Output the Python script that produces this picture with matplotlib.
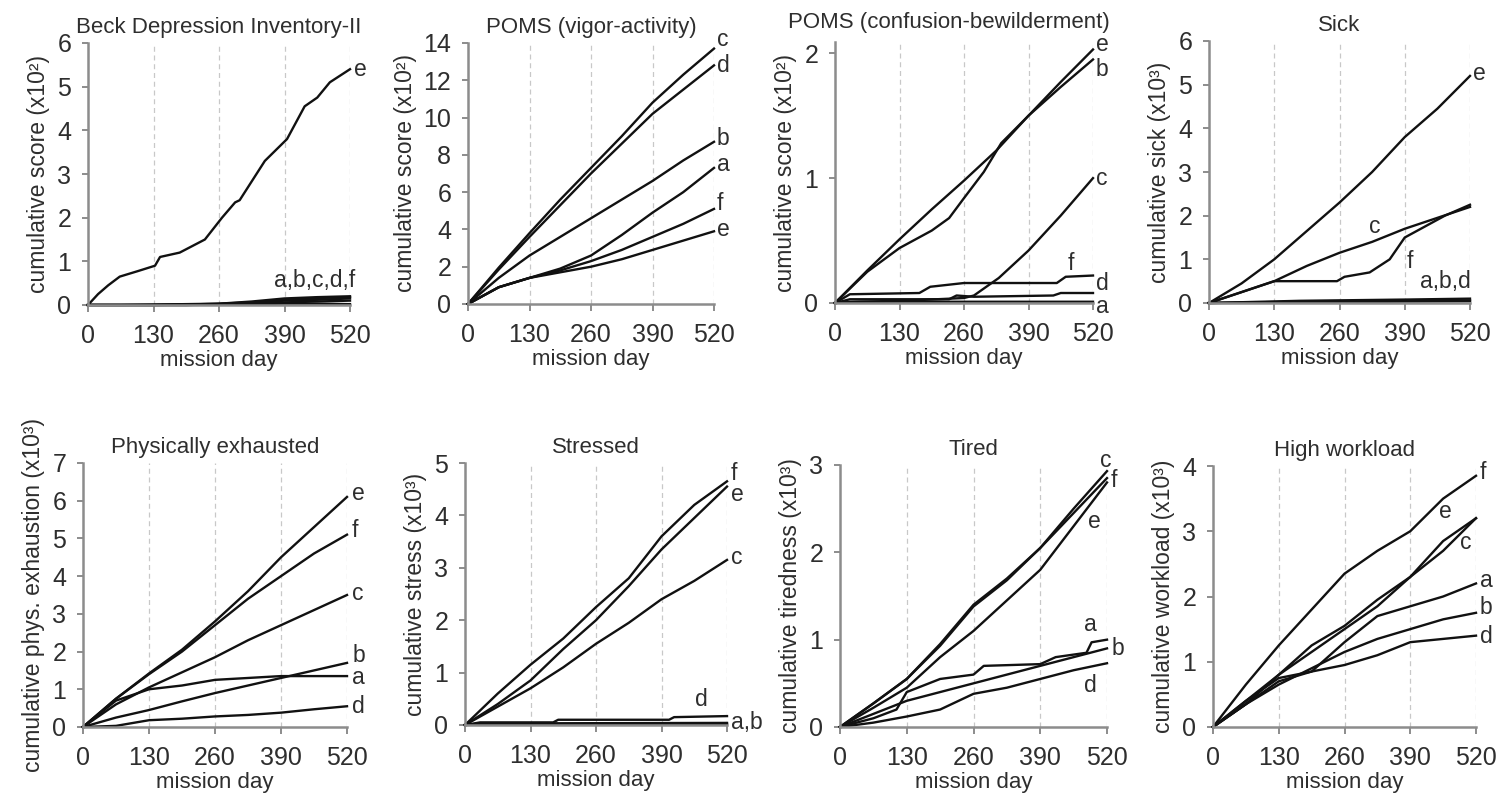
import matplotlib
matplotlib.use("Agg")
import matplotlib.pyplot as plt

plt.rcParams['font.family'] = ['Liberation Sans', 'DejaVu Sans']

days = [0, 65, 130, 195, 260, 325, 390, 455, 520]
day_ticks = [0, 130, 260, 390, 520]

# ---- Beck Depression Inventory-II (x10^2)
bdi_e_x = [0, 20, 40, 63, 100, 133, 143, 182, 232, 266, 292, 301, 351, 395, 430, 455, 480, 520]
bdi_e = [0, 0.25, 0.45, 0.65, 0.78, 0.9, 1.1, 1.2, 1.5, 2.0, 2.35, 2.4, 3.3, 3.8, 4.55, 4.75, 5.1, 5.4]
bdi_a = [0, 0, 0, 0, 0.01, 0.02, 0.03, 0.03, 0.02]
bdi_b = [0, 0, 0, 0, 0.02, 0.04, 0.06, 0.08, 0.1]
bdi_c = [0, 0, 0.01, 0.02, 0.03, 0.08, 0.15, 0.18, 0.2]
bdi_d = [0, 0, 0, 0.01, 0.02, 0.05, 0.1, 0.12, 0.15]
bdi_f = [0, 0, 0, 0.01, 0.03, 0.06, 0.12, 0.16, 0.18]

# ---- POMS vigor-activity (x10^2)
vig_c = [0, 1.95, 3.8, 5.6, 7.3, 9.0, 10.8, 12.3, 13.7]
vig_d = [0, 1.85, 3.6, 5.3, 7.0, 8.6, 10.2, 11.5, 12.8]
vig_b = [0, 1.4, 2.6, 3.6, 4.6, 5.6, 6.6, 7.7, 8.7]
vig_a = [0, 0.9, 1.4, 1.9, 2.6, 3.7, 4.9, 6.0, 7.3]
vig_f = [0, 0.9, 1.4, 1.8, 2.3, 2.9, 3.6, 4.3, 5.1]
vig_e = [0, 0.9, 1.4, 1.7, 2.0, 2.4, 2.9, 3.4, 3.9]

# ---- POMS confusion-bewilderment (x10^2)
con_e = [0, 0.26, 0.51, 0.75, 0.98, 1.22, 1.5, 1.77, 2.03]
con_b_x = [0, 65, 130, 195, 230, 260, 300, 335, 390, 455, 520]
con_b = [0, 0.25, 0.44, 0.58, 0.68, 0.84, 1.05, 1.28, 1.5, 1.73, 1.95]
con_c_x = [0, 50, 150, 260, 280, 330, 390, 455, 520]
con_c = [0, 0.01, 0.02, 0.04, 0.06, 0.2, 0.42, 0.7, 1.0]
con_f_x = [0, 30, 170, 192, 260, 447, 465, 520]
con_f = [0, 0.07, 0.08, 0.13, 0.16, 0.16, 0.21, 0.22]
con_d_x = [0, 30, 230, 245, 280, 440, 455, 520]
con_d = [0, 0.03, 0.03, 0.06, 0.05, 0.06, 0.08, 0.08]
con_a_x = [0, 30, 520]
con_a = [0, 0.01, 0.01]

# ---- Sick (x10^3)
sick_e = [0, 0.45, 1.0, 1.65, 2.3, 3.0, 3.8, 4.45, 5.2]
sick_c = [0, 0.25, 0.5, 0.85, 1.15, 1.4, 1.7, 1.95, 2.2]
sick_f_x = [0, 65, 130, 255, 270, 320, 360, 390, 430, 470, 520]
sick_f = [0, 0.25, 0.5, 0.5, 0.6, 0.7, 1.0, 1.5, 1.75, 2.0, 2.25]
sick_a_x = [0, 180, 520]
sick_a = [0, 0.03, 0.06]
sick_b_x = [0, 180, 400, 520]
sick_b = [0, 0.05, 0.08, 0.1]
sick_d_x = [0, 520]
sick_d = [0, 0.04]

# ---- Physically exhausted (x10^3)
phy_e = [0, 0.75, 1.42, 2.05, 2.8, 3.6, 4.5, 5.3, 6.1]
phy_f = [0, 0.75, 1.4, 2.0, 2.7, 3.4, 4.0, 4.6, 5.1]
phy_c = [0, 0.6, 1.05, 1.45, 1.85, 2.3, 2.7, 3.1, 3.5]
phy_b = [0, 0.25, 0.45, 0.68, 0.9, 1.1, 1.3, 1.5, 1.7]
phy_a = [0, 0.7, 1.0, 1.1, 1.25, 1.3, 1.35, 1.35, 1.35]
phy_d = [0, 0.03, 0.18, 0.22, 0.28, 0.32, 0.38, 0.47, 0.55]

# ---- Stressed (x10^3)
str_f = [0, 0.6, 1.15, 1.65, 2.25, 2.8, 3.6, 4.2, 4.65]
str_e = [0, 0.4, 0.85, 1.45, 2.0, 2.65, 3.35, 3.95, 4.55]
str_c = [0, 0.35, 0.7, 1.1, 1.55, 1.95, 2.4, 2.75, 3.15]
str_d_x = [0, 30, 175, 185, 405, 415, 520]
str_d = [0, 0.05, 0.05, 0.1, 0.1, 0.15, 0.17]
str_a_x = [0, 30, 520]
str_a = [0, 0.03, 0.04]
str_b_x = [0, 30, 520]
str_b = [0, 0.01, 0.02]

# ---- Tired (x10^3)
tir_c = [0, 0.27, 0.55, 0.95, 1.4, 1.7, 2.05, 2.5, 2.93]
tir_f = [0, 0.27, 0.55, 0.93, 1.38, 1.68, 2.05, 2.45, 2.85]
tir_e = [0, 0.22, 0.45, 0.8, 1.1, 1.45, 1.8, 2.3, 2.8]
tir_a_x = [0, 65, 110, 130, 195, 260, 280, 390, 420, 480, 490, 520]
tir_a = [0, 0.1, 0.2, 0.4, 0.55, 0.6, 0.7, 0.72, 0.8, 0.85, 0.97, 1.0]
tir_b = [0, 0.15, 0.3, 0.4, 0.5, 0.6, 0.7, 0.8, 0.9]
tir_d = [0, 0.05, 0.12, 0.2, 0.38, 0.45, 0.55, 0.65, 0.73]

# ---- High workload (x10^3)
wl_f = [0, 0.65, 1.25, 1.8, 2.35, 2.7, 3.0, 3.5, 3.85]
wl_e = [0, 0.4, 0.8, 1.25, 1.55, 1.95, 2.3, 2.85, 3.2]
wl_c = [0, 0.35, 0.8, 1.15, 1.5, 1.85, 2.3, 2.7, 3.2]
wl_a = [0, 0.35, 0.7, 0.85, 1.3, 1.7, 1.85, 2.0, 2.2]
wl_b = [0, 0.35, 0.65, 0.9, 1.15, 1.35, 1.5, 1.65, 1.75]
wl_d = [0, 0.4, 0.75, 0.85, 0.95, 1.1, 1.3, 1.35, 1.4]

panels = [
    dict(title="Beck Depression Inventory-II", ylabel="cumulative score (x10²)", title_x=0.5, title_pad=7,
         ylim=6, yticks=[0, 1, 2, 3, 4, 5, 6], box=(88, 43, 350, 305),
         lines=[(bdi_e_x, bdi_e), (days, bdi_a), (days, bdi_b), (days, bdi_c), (days, bdi_d), (days, bdi_f)],
         labels=[("e", 528, 5.4, 'left'), ("a,b,c,d,f", 450, 0.55, 'center')]),
    dict(title="POMS (vigor-activity)", ylabel="cumulative score (x10²)", title_x=0.5, title_pad=7,
         ylim=14, yticks=[0, 2, 4, 6, 8, 10, 12, 14], box=(468, 43, 714, 304),
         lines=[(days, vig_c), (days, vig_d), (days, vig_b), (days, vig_a), (days, vig_f), (days, vig_e)],
         labels=[("c", 526, 14.2, 'left'), ("d", 526, 12.8, 'left'), ("b", 526, 8.9, 'left'),
                 ("a", 526, 7.5, 'left'), ("f", 526, 5.4, 'left'), ("e", 526, 4.0, 'left')]),
    dict(title="POMS (confusion-bewilderment)", ylabel="cumulative score (x10²)", title_x=0.442, title_pad=10,
         ylim=2.09, yticks=[0, 1, 2], box=(835, 42, 1093, 303),
         lines=[(days, con_e), (con_b_x, con_b), (con_c_x, con_c), (con_f_x, con_f), (con_d_x, con_d), (con_a_x, con_a)],
         labels=[("e", 526, 2.07, 'left'), ("b", 526, 1.87, 'left'), ("c", 526, 1.0, 'left'),
                 ("f", 475, 0.32, 'center'), ("d", 526, 0.16, 'left'), ("a", 526, -0.03, 'left')]),
    dict(title="Sick", ylabel="cumulative sick (x10³)", title_x=0.5, title_pad=7,
         ylim=6, yticks=[0, 1, 2, 3, 4, 5, 6], box=(1209, 41, 1470, 303),
         lines=[(days, sick_e), (days, sick_c), (sick_f_x, sick_f), (sick_a_x, sick_a), (sick_b_x, sick_b), (sick_d_x, sick_d)],
         labels=[("e", 526, 5.25, 'left'), ("c", 330, 1.75, 'center'), ("f", 400, 0.95, 'center'),
                 ("a,b,d", 470, 0.5, 'center')]),
    dict(title="Physically exhausted", ylabel="cumulative phys. exhaustion (x10³)", title_x=0.5, title_pad=7,
         ylim=7, yticks=[0, 1, 2, 3, 4, 5, 6, 7], box=(83, 463, 347, 727),
         lines=[(days, phy_e), (days, phy_f), (days, phy_c), (days, phy_b), (days, phy_a), (days, phy_d)],
         labels=[("e", 530, 6.2, 'left'), ("f", 530, 5.2, 'left'), ("c", 530, 3.55, 'left'),
                 ("b", 530, 1.9, 'left'), ("a", 530, 1.3, 'left'), ("d", 530, 0.55, 'left')]),
    dict(title="Stressed", ylabel="cumulative stress (x10³)", title_x=0.5, title_pad=7,
         ylim=5, yticks=[0, 1, 2, 3, 4, 5], box=(465, 463, 727, 725),
         lines=[(days, str_f), (days, str_e), (days, str_c), (str_d_x, str_d), (str_a_x, str_a), (str_b_x, str_b)],
         labels=[("f", 528, 4.8, 'left'), ("e", 528, 4.4, 'left'), ("c", 528, 3.2, 'left'),
                 ("d", 470, 0.48, 'center'), ("a,b", 528, 0.05, 'left')]),
    dict(title="Tired", ylabel="cumulative tiredness (x10³)", title_x=0.5, title_pad=7,
         ylim=3, yticks=[0, 1, 2, 3], box=(840, 465, 1107, 727),
         lines=[(days, tir_c), (days, tir_f), (days, tir_e), (tir_a_x, tir_a), (days, tir_b), (days, tir_d)],
         labels=[("c", 517, 3.05, 'center'), ("f", 528, 2.82, 'left'), ("e", 496, 2.35, 'center'),
                 ("a", 488, 1.17, 'center'), ("b", 528, 0.9, 'left'), ("d", 488, 0.48, 'center')]),
    dict(title="High workload", ylabel="cumulative workload (x10³)", title_x=0.5, title_pad=7,
         ylim=4, yticks=[0, 1, 2, 3, 4], box=(1213, 466, 1476, 727),
         lines=[(days, wl_f), (days, wl_e), (days, wl_c), (days, wl_a), (days, wl_b), (days, wl_d)],
         labels=[("f", 528, 3.9, 'left'), ("e", 460, 3.3, 'center'), ("c", 500, 2.83, 'center'),
                 ("a", 528, 2.25, 'left'), ("b", 528, 1.83, 'left'), ("d", 528, 1.38, 'left')]),
]

W, H = 1508, 797
fig = plt.figure(figsize=(W / 100, H / 100), dpi=100)
fig.patch.set_facecolor('white')

spine_col = '#8c8c8c'
text_col = '#2e2e2e'
line_col = '#111111'

for p in panels:
    x0, y0, x1, y1 = p['box']
    ax = fig.add_axes([x0 / W, 1 - y1 / H, (x1 - x0) / W, (y1 - y0) / H])
    for gx in day_ticks[1:]:
        ax.axvline(gx, color='#c8c8c8', lw=0.9, ls=(0, (4, 3)), zorder=0)
    for xs, ys in p['lines']:
        ax.plot(xs, ys, color=line_col, lw=1.7, solid_joinstyle='round', clip_on=False)
    for t, tx, ty, ha in p['labels']:
        ax.text(tx, ty, t, ha=ha, va='center', fontsize=16.5, color=text_col, clip_on=False)
    ax.set_xlim(0, 520)
    ax.set_ylim(0, p['ylim'])
    ax.set_xticks(day_ticks)
    ax.set_yticks(p['yticks'])
    ax.set_yticklabels([str(v) for v in p['yticks']])
    for s in ['top', 'right']:
        ax.spines[s].set_visible(False)
    for s in ['left', 'bottom']:
        ax.spines[s].set_color(spine_col)
        ax.spines[s].set_linewidth(1.8)
    ax.tick_params(axis='x', colors=spine_col, length=5, width=1.4, direction='out',
                   labelsize=18, labelcolor=text_col, pad=9)
    ax.tick_params(axis='y', colors=spine_col, length=4, width=1.4, direction='out',
                   labelsize=18, labelcolor=text_col, pad=8)
    ax.set_title(p['title'], fontsize=16, color=text_col, pad=p['title_pad'], x=p['title_x'])
    ax.set_ylabel(p['ylabel'], fontsize=16.5, color=text_col, labelpad=5)
    ax.set_xlabel('mission day', fontsize=16, color=text_col, labelpad=1)
    ax.set_facecolor('none')

fig.savefig('out.png', dpi=100, facecolor='white')
